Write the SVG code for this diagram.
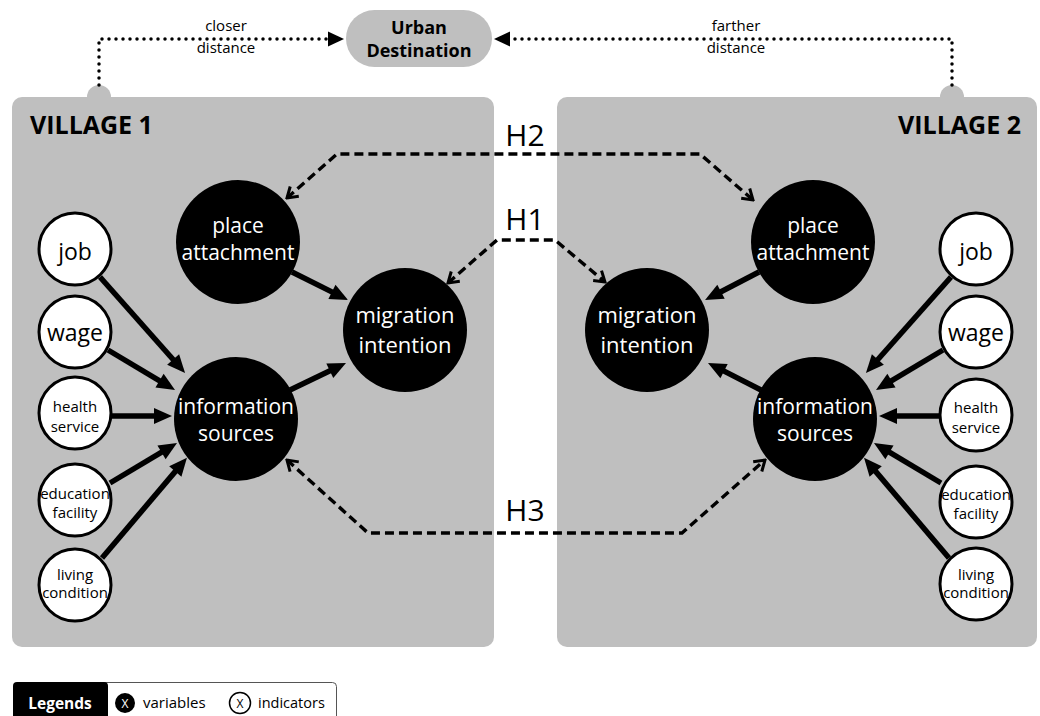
<svg xmlns="http://www.w3.org/2000/svg" width="1040" height="716" viewBox="0 0 1040 716">
<style>
text{font-family:"Open Sans","Noto Sans",sans-serif;text-anchor:middle}
.panel{fill:#bfbfbf}
.var{fill:#000}
.ind{fill:#fff;stroke:#000;stroke-width:3}
.vt{fill:#fff;font-size:21px}
.mt{fill:#fff;font-size:22px}
.it{fill:#000;font-size:23px}
.st{fill:#000;font-size:15px}
.lbl{fill:#000;font-size:15px}
.h{fill:#000;font-size:30px}
.thick{stroke:#000;stroke-width:5.5;fill:none;marker-end:url(#tri)}
.dash{stroke:#000;stroke-width:3.4;fill:none;stroke-dasharray:9 5;marker-start:url(#chev);marker-end:url(#chev)}
.dot{stroke:#000;stroke-width:3.5;fill:none;stroke-dasharray:0 7;stroke-linecap:round;marker-end:url(#tri2)}
</style>
<defs>
<marker id="tri" markerUnits="userSpaceOnUse" markerWidth="20" markerHeight="18" viewBox="0 0 20 18" refX="7" refY="9" orient="auto"><path d="M1,1 L19,9 L1,17 z" fill="#000"/></marker>
<marker id="tri2" markerUnits="userSpaceOnUse" markerWidth="18" markerHeight="16" viewBox="0 0 18 16" refX="1" refY="8" orient="auto"><path d="M1,0.5 L17,8 L1,15.5 z" fill="#000"/></marker>
<marker id="chev" markerUnits="userSpaceOnUse" markerWidth="14" markerHeight="16" viewBox="0 0 14 16" refX="12" refY="8" orient="auto-start-reverse"><path d="M2,1.5 L12,8 L2,14.5" fill="none" stroke="#000" stroke-width="3"/></marker>
</defs>

<g id="village1">
<circle class="panel" cx="99" cy="97" r="12"/>
<rect class="panel" x="12" y="97" width="482" height="550" rx="10"/>
<text x="30" y="134" style="font-size:25px;font-weight:bold;text-anchor:start">VILLAGE 1</text>
</g>
<g id="village2">
<circle class="panel" cx="952" cy="97" r="12"/>
<rect class="panel" x="557" y="97" width="480" height="550" rx="10"/>
<text x="1021" y="134" style="font-size:25px;font-weight:bold;text-anchor:end">VILLAGE 2</text>
</g>

<g id="urban">
<rect class="panel" x="346" y="10" width="146" height="57" rx="28.5"/>
<text x="419" y="34" style="font-size:18px;font-weight:bold">Urban</text>
<text x="419" y="57" style="font-size:18px;font-weight:bold">Destination</text>
</g>

<g id="connectors">
<path class="dot" d="M99,85 L99,39 L328,39"/>
<path class="dot" d="M952,85 L952,39 L510,39"/>
<text class="lbl" x="226" y="31">closer</text>
<text class="lbl" x="226" y="53">distance</text>
<text class="lbl" x="736" y="31">farther</text>
<text class="lbl" x="736" y="53">distance</text>

<path class="thick" d="M100,277 L177.1,364"/>
<path class="thick" d="M108,350 L164.7,383.8"/>
<path class="thick" d="M112,416 L160,416"/>
<path class="thick" d="M110,483 L166.7,449.2"/>
<path class="thick" d="M102,558 L179.2,466.9"/>
<path class="thick" d="M292,272 L337.3,294.6"/>
<path class="thick" d="M290,390 L335.2,368.2"/>

<path class="thick" d="M951,277 L873.9,364"/>
<path class="thick" d="M943,350 L886.3,383.8"/>
<path class="thick" d="M939,416 L891,416"/>
<path class="thick" d="M941,483 L884.3,449.2"/>
<path class="thick" d="M949,558 L871.8,466.9"/>
<path class="thick" d="M759,272 L715.7,294.5"/>
<path class="thick" d="M761,390 L718.7,368.4"/>

<path class="dash" d="M287,198 L337,154 L700,154 L753,200"/>
<path class="dash" d="M448,283 L497,240 L555,240 L605,282"/>
<path class="dash" d="M287,460 L368,533 L682,533 L765,460"/>
<text class="h" x="525" y="146">H2</text>
<text class="h" x="525" y="230">H1</text>
<text class="h" x="525" y="521">H3</text>
</g>

<g id="v1-place"><circle class="var" cx="238" cy="242" r="62"/><text class="vt" x="238" y="233">place</text><text class="vt" x="238" y="260">attachment</text></g>
<g id="v1-migration"><circle class="var" cx="405" cy="330" r="62"/><text class="mt" x="405" y="323">migration</text><text class="mt" x="405" y="353">intention</text></g>
<g id="v1-info"><circle class="var" cx="236" cy="419" r="62"/><text class="vt" x="236" y="414">information</text><text class="vt" x="236" y="441">sources</text></g>
<g id="v1-job"><circle class="ind" cx="75" cy="249" r="36"/><text class="it" x="75" y="260">job</text></g>
<g id="v1-wage"><circle class="ind" cx="75" cy="332" r="36"/><text class="it" x="75" y="341">wage</text></g>
<g id="v1-health"><circle class="ind" cx="75" cy="413" r="36"/><text class="st" x="75" y="412">health</text><text class="st" x="75" y="432">service</text></g>
<g id="v1-education"><circle class="ind" cx="75" cy="500" r="36"/><text class="st" x="75" y="499">education</text><text class="st" x="75" y="518">facility</text></g>
<g id="v1-living"><circle class="ind" cx="75" cy="585" r="36"/><text class="st" x="75" y="580">living</text><text class="st" x="75" y="598">condition</text></g>

<g id="v2-place"><circle class="var" cx="813" cy="242" r="62"/><text class="vt" x="813" y="233">place</text><text class="vt" x="813" y="260">attachment</text></g>
<g id="v2-migration"><circle class="var" cx="647" cy="330" r="62"/><text class="mt" x="647" y="323">migration</text><text class="mt" x="647" y="353">intention</text></g>
<g id="v2-info"><circle class="var" cx="815" cy="419" r="62"/><text class="vt" x="815" y="414">information</text><text class="vt" x="815" y="441">sources</text></g>
<g id="v2-job"><circle class="ind" cx="976" cy="249" r="36"/><text class="it" x="976" y="260">job</text></g>
<g id="v2-wage"><circle class="ind" cx="976" cy="332" r="36"/><text class="it" x="976" y="341">wage</text></g>
<g id="v2-health"><circle class="ind" cx="976" cy="415" r="36"/><text class="st" x="976" y="413">health</text><text class="st" x="976" y="433">service</text></g>
<g id="v2-education"><circle class="ind" cx="976" cy="502" r="36"/><text class="st" x="976" y="500">education</text><text class="st" x="976" y="519">facility</text></g>
<g id="v2-living"><circle class="ind" cx="976" cy="584" r="36"/><text class="st" x="976" y="580">living</text><text class="st" x="976" y="598">condition</text></g>

<g id="legend">
<rect x="100" y="682.5" width="236.5" height="40" rx="4" fill="#fff" stroke="#555" stroke-width="1"/>
<rect x="13" y="682" width="95" height="40" rx="4" fill="#000"/>
<text x="60" y="709" style="font-size:15.5px;font-weight:bold;fill:#fff">Legends</text>
<circle cx="125" cy="703" r="10" fill="#000"/>
<text x="125" y="708" style="font-size:12px;fill:#fff">X</text>
<text x="143" y="708" style="font-size:15px;text-anchor:start">variables</text>
<circle cx="240" cy="703" r="10.5" fill="#fff" stroke="#000" stroke-width="1.5"/>
<text x="240" y="708" style="font-size:12px">X</text>
<text x="258" y="708" style="font-size:14.5px;text-anchor:start">indicators</text>
</g>
</svg>
